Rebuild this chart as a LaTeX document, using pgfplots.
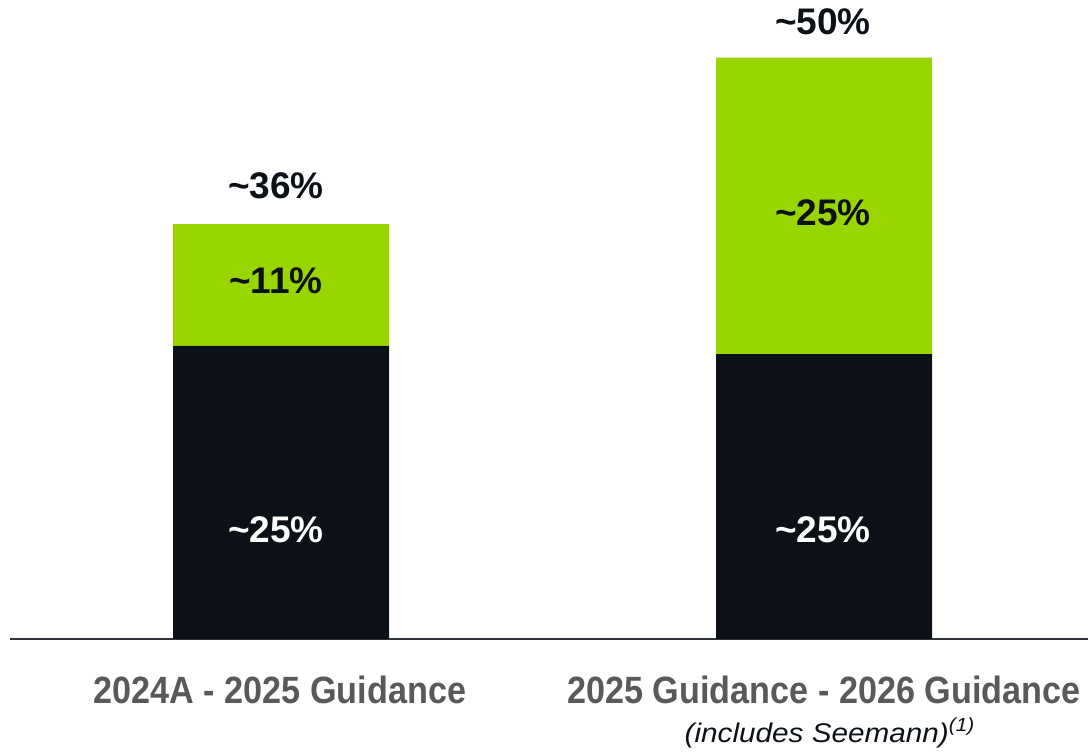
\documentclass[border=0pt]{standalone}
\usepackage{pgfplots}
\pgfplotsset{compat=1.18}
\usepackage{fontspec}
\setmainfont{Liberation Sans}
\newfontfamily\catfont[FakeStretch=0.9]{Liberation Sans}
\newfontfamily\notefont[FakeStretch=1.1]{Liberation Sans}
\definecolor{darkbar}{HTML}{0C1017}
\definecolor{limebar}{HTML}{99D600}
\definecolor{catgray}{HTML}{595959}
\begin{document}
\begin{tikzpicture}
\begin{axis}[
  scale only axis, width=544pt, height=376pt,
  xmin=0, xmax=1088, ymin=-9.64, ymax=54.52,
  hide axis, clip=false,
  ybar stacked, bar width=216,
]
\addplot[fill=darkbar, draw=none] coordinates {(281,25) (824,24.3)};
\addplot[fill=limebar, draw=none] coordinates {(281,10.4) (824,25.3)};
\draw[line width=1pt, color=darkbar!85] (axis cs:10,0) -- (axis cs:1088,0);
\coordinate (d1) at (axis cs:276,9.30);
\coordinate (d2) at (axis cs:823,9.30);
\coordinate (g1) at (axis cs:276,30.55);
\coordinate (g2) at (axis cs:823,36.35);
\coordinate (t1) at (axis cs:276,38.65);
\coordinate (t2) at (axis cs:823,52.65);
\coordinate (c1) at (axis cs:280,-4.35);
\coordinate (c2) at (axis cs:824,-4.35);
\coordinate (n2) at (axis cs:830,-8.02);
\end{axis}
\tikzset{vl/.style={font=\fontsize{18.5}{21}\selectfont\bfseries}}
\node[vl, text=white] at (d1) {\textasciitilde25\%};
\node[vl, text=white] at (d2) {\textasciitilde25\%};
\node[vl, text=darkbar] at (g1) {\textasciitilde11\%};
\node[vl, text=darkbar] at (g2) {\textasciitilde25\%};
\node[vl, text=darkbar] at (t1) {\textasciitilde36\%};
\node[vl, text=darkbar] at (t2) {\textasciitilde50\%};
\node[text=catgray, font=\catfont\fontsize{19}{22}\selectfont\bfseries] at (c1) {2024A - 2025 Guidance};
\node[text=catgray, font=\catfont\fontsize{19}{22}\selectfont\bfseries] at (c2) {2025 Guidance - 2026 Guidance};
\node[text=darkbar, font=\notefont\fontsize{13.5}{16}\selectfont\itshape] at (n2) {(includes Seemann)\textsuperscript{(1)}};
\pgfresetboundingbox
\path (current axis.south west) rectangle (current axis.north east);
\end{tikzpicture}
\end{document}
